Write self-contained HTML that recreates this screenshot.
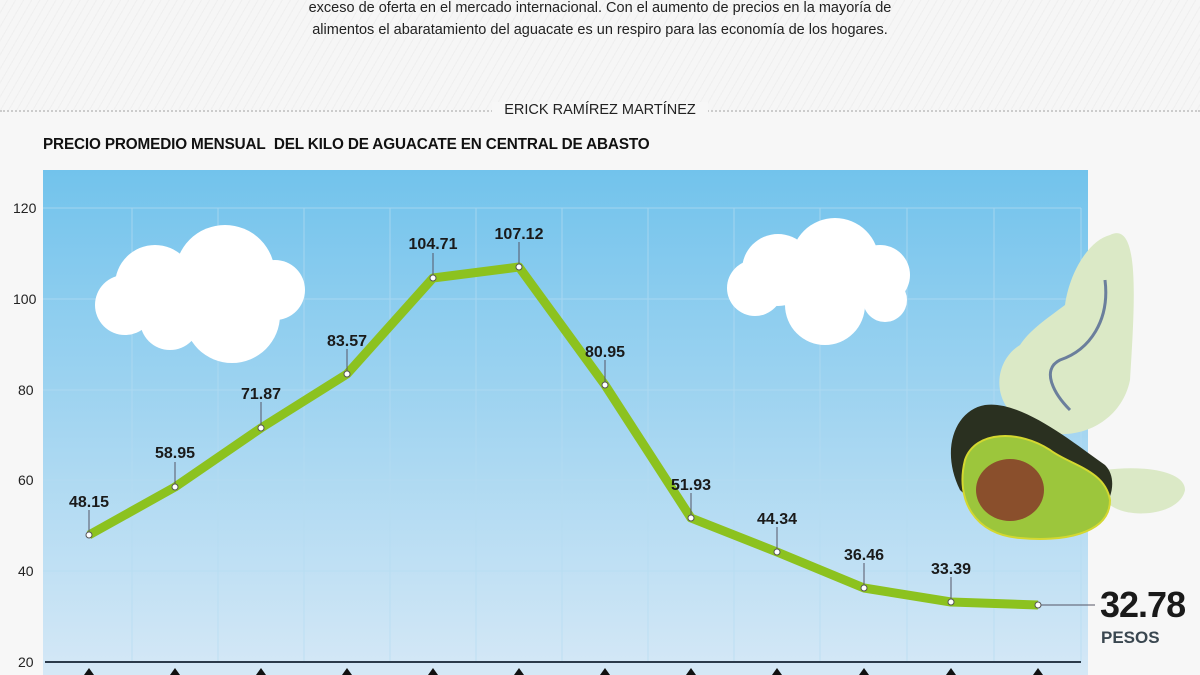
<!DOCTYPE html>
<html><head><meta charset="utf-8"><style>
body{margin:0;width:1200px;height:675px;overflow:hidden;background:#f7f7f7;font-family:"Liberation Sans",sans-serif;position:relative}
.bgl{position:absolute;left:0;top:0;width:1200px;height:110px;background:repeating-linear-gradient(120deg,#f6f6f6 0 6px,#efefef 6px 7px)}
.t{position:absolute;left:0;width:1200px;text-align:center;color:#222;font-size:14.5px}
</style></head><body>
<div class="bgl"></div>
<div class="t" style="top:0px">exceso de oferta en el mercado internacional. Con el aumento de precios en la mayoría de</div>
<div class="t" style="top:22px">alimentos el abaratamiento del aguacate es un respiro para las economía de los hogares.</div>
<div style="position:absolute;left:0;top:110px;width:1200px;border-top:2px dotted #ccc"></div>
<div class="t" style="top:102px;"><span style="background:#f7f7f7;padding:0 12px;font-size:14.5px">ERICK RAMÍREZ MARTÍNEZ</span></div>
<div style="position:absolute;left:43px;top:136px;font-weight:bold;font-size:15.3px;color:#111;letter-spacing:-0.15px">PRECIO PROMEDIO MENSUAL&nbsp; DEL KILO DE AGUACATE EN CENTRAL DE ABASTO</div>
<svg width="1200" height="675" style="position:absolute;left:0;top:0">
<defs><linearGradient id="g" x1="0" y1="0" x2="0" y2="1"><stop offset="0" stop-color="#72c3ec"/><stop offset="1" stop-color="#d5e8f6"/></linearGradient></defs>
<rect x="43" y="170" width="1045" height="505" fill="url(#g)"/>
<g stroke="#b5dcf2" stroke-width="1" opacity="0.7">
<line x1="43" y1="208" x2="1081" y2="208"/><line x1="43" y1="299" x2="1081" y2="299"/><line x1="43" y1="390" x2="1081" y2="390"/><line x1="43" y1="480" x2="1081" y2="480"/><line x1="43" y1="571" x2="1081" y2="571"/>
<line x1="132" y1="208" x2="132" y2="662"/><line x1="218" y1="208" x2="218" y2="662"/><line x1="304" y1="208" x2="304" y2="662"/><line x1="390" y1="208" x2="390" y2="662"/><line x1="476" y1="208" x2="476" y2="662"/><line x1="562" y1="208" x2="562" y2="662"/><line x1="648" y1="208" x2="648" y2="662"/><line x1="734" y1="208" x2="734" y2="662"/><line x1="820" y1="208" x2="820" y2="662"/><line x1="907" y1="208" x2="907" y2="662"/><line x1="994" y1="208" x2="994" y2="662"/><line x1="1081" y1="208" x2="1081" y2="662"/>
</g>
<line x1="45" y1="662" x2="1081" y2="662" stroke="#2a3a4a" stroke-width="2"/>
<g font-size="14" fill="#222">
<text x="13" y="213">120</text><text x="13" y="304">100</text><text x="18" y="395">80</text><text x="18" y="485">60</text><text x="18" y="576">40</text><text x="18" y="667">20</text></g>
<g fill="#fff">
<circle cx="155" cy="285" r="40"/><circle cx="225" cy="275" r="50"/><circle cx="125" cy="305" r="30"/><circle cx="275" cy="290" r="30"/><circle cx="232" cy="315" r="48"/><circle cx="170" cy="320" r="30"/>
<circle cx="835" cy="262" r="44"/><circle cx="778" cy="270" r="36"/><circle cx="880" cy="275" r="30"/><circle cx="755" cy="288" r="28"/><circle cx="825" cy="305" r="40"/><circle cx="885" cy="300" r="22"/>
</g>
<g>
<path d="M1110 235 C1140 220 1135 300 1130 380 C1120 430 1060 450 1020 420 C990 400 995 360 1020 345 C1030 330 1045 320 1065 305 C1070 270 1090 240 1110 235Z" fill="#dbe9c6"/>
<path d="M1105 280 C1110 320 1090 350 1060 360 C1040 370 1055 395 1070 410" fill="none" stroke="#6b7f9c" stroke-width="3"/>
<path d="M1105 470 C1140 465 1185 470 1185 490 C1180 515 1130 520 1110 505Z" fill="#dbe9c6"/>
<path d="M985 405 C1020 400 1070 440 1105 465 C1120 480 1110 510 1090 520 C1050 530 990 520 960 490 C940 450 955 410 985 405Z" fill="#2a3020"/>
<path d="M965 460 C975 430 1020 430 1050 450 C1070 465 1105 470 1110 500 C1110 535 1060 542 1020 538 C975 535 955 500 965 460Z" fill="#9cc63c" stroke="#d4d830" stroke-width="2"/>
<ellipse cx="1010" cy="490" rx="34" ry="31" fill="#8a4f2c"/>
</g>
<polyline fill="none" stroke="#8cc21f" stroke-width="9" stroke-linejoin="round" points="89,535 175,487 261,428 347,374 433,278 519,267 605,385 691,518 777,552 864,588 951,602 1038,605"/>
<g stroke="#556" stroke-width="1">
<line x1="89" y1="510" x2="89" y2="535"/><line x1="175" y1="462" x2="175" y2="487"/><line x1="261" y1="402" x2="261" y2="428"/><line x1="347" y1="349" x2="347" y2="374"/><line x1="433" y1="253" x2="433" y2="278"/><line x1="519" y1="242" x2="519" y2="267"/><line x1="605" y1="360" x2="605" y2="385"/><line x1="691" y1="493" x2="691" y2="518"/><line x1="777" y1="527" x2="777" y2="552"/><line x1="864" y1="563" x2="864" y2="588"/><line x1="951" y1="577" x2="951" y2="602"/><line x1="1038" y1="605" x2="1095" y2="605"/></g>
<g fill="#fff" stroke="#555" stroke-width="1">
<circle cx="89" cy="535" r="3"/><circle cx="175" cy="487" r="3"/><circle cx="261" cy="428" r="3"/><circle cx="347" cy="374" r="3"/><circle cx="433" cy="278" r="3"/><circle cx="519" cy="267" r="3"/><circle cx="605" cy="385" r="3"/><circle cx="691" cy="518" r="3"/><circle cx="777" cy="552" r="3"/><circle cx="864" cy="588" r="3"/><circle cx="951" cy="602" r="3"/><circle cx="1038" cy="605" r="3"/></g>
<g font-size="16" font-weight="bold" fill="#1a1a1a" text-anchor="middle">
<text x="89" y="507">48.15</text><text x="175" y="458">58.95</text><text x="261" y="399">71.87</text><text x="347" y="346">83.57</text><text x="433" y="249">104.71</text><text x="519" y="239">107.12</text><text x="605" y="357">80.95</text><text x="691" y="490">51.93</text><text x="777" y="524">44.34</text><text x="864" y="560">36.46</text><text x="951" y="574">33.39</text></g>
<text x="1100" y="617" font-size="36" font-weight="bold" fill="#1a1a1a" letter-spacing="-1">32.78</text>
<text x="1101" y="643" font-size="17" font-weight="bold" fill="#3a4750">PESOS</text>
<g fill="#111">
<path d="M84 675 L89 668 L94 675Z"/><path d="M170 675 L175 668 L180 675Z"/><path d="M256 675 L261 668 L266 675Z"/><path d="M342 675 L347 668 L352 675Z"/><path d="M428 675 L433 668 L438 675Z"/><path d="M514 675 L519 668 L524 675Z"/><path d="M600 675 L605 668 L610 675Z"/><path d="M686 675 L691 668 L696 675Z"/><path d="M772 675 L777 668 L782 675Z"/><path d="M859 675 L864 668 L869 675Z"/><path d="M946 675 L951 668 L956 675Z"/><path d="M1033 675 L1038 668 L1043 675Z"/></g>
</svg>
</body></html>
